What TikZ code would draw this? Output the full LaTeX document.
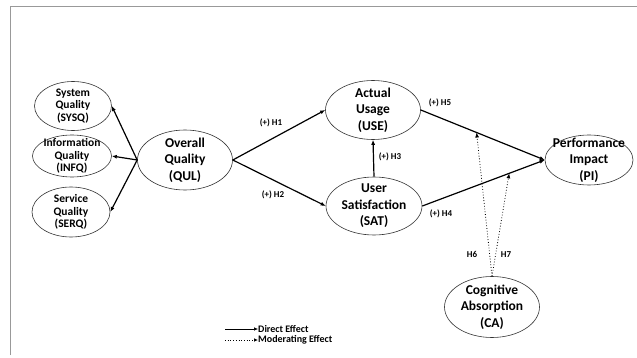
\documentclass[tikz,border=0pt]{standalone}
\usepackage{fontspec}
\setmainfont{Carlito}
\usetikzlibrary{shapes.geometric,arrows.meta,calc}
\begin{document}
\begin{tikzpicture}[x=1pt,y=-1pt,
  oval/.style={ellipse,draw=black!80,line width=0.6pt,inner sep=0pt},
  bigtxt/.style={align=center,font=\bfseries\fontsize{13.5}{16.5}\selectfont,inner sep=0pt},
  smalltxt/.style={align=center,font=\bfseries\fontsize{11.5}{12.5}\selectfont,inner sep=0pt},
  lbl/.style={font=\bfseries\fontsize{9}{10}\selectfont,inner sep=0pt},
  direct/.style={line width=1.2pt,-{Latex[length=5pt,width=4pt]}},
  moder/.style={line width=0.8pt,dotted,-{Latex[length=5pt,width=4pt]}},
  frame/.style={draw=black!40,line width=0.8pt}]
\useasboundingbox (0,0) rectangle (637,358);
\fill[white] (0,0) rectangle (637,358);
\draw[frame] (10,355) -- (10,6) -- (637,6);
% ellipses
\node[oval,minimum width=77,minimum height=49] (sysq) at (73,106) {};
\node[smalltxt] at (sysq) {System\\Quality\\(SYSQ)};
\node[oval,minimum width=79,minimum height=42] (infq) at (72,156) {};
\node[smalltxt] at (infq) {Information\\Quality\\(INFQ)};
\node[oval,minimum width=78,minimum height=50] (serq) at (71,212) {};
\node[smalltxt] at (serq) {Service\\Quality\\(SERQ)};
\node[oval,minimum width=95,minimum height=60] (qul) at (185,160) {};
\node[bigtxt] at (qul) {Overall\\Quality\\(QUL)};
\node[oval,minimum width=95,minimum height=59] (use) at (373,110) {};
\node[bigtxt] at (use) {Actual\\Usage\\(USE)};
\node[oval,minimum width=96,minimum height=58] (sat) at (374,206) {};
\node[bigtxt] at (sat) {User\\Satisfaction\\(SAT)};
\node[oval,minimum width=88,minimum height=50] (pi) at (589,160) {};
\node[bigtxt] at (pi) {Performance\\Impact\\(PI)};
\node[oval,minimum width=95,minimum height=61] (ca) at (492,307) {};
\node[bigtxt] at (ca) {Cognitive\\Absorption\\(CA)};
% connectors
\coordinate (q) at (qul.west);
\draw[direct] (q) -- (sysq.east);
\draw[direct] (q) -- (infq.east);
\draw[direct] (q) -- (serq.east);
\draw[direct] (qul.east) -- (use.west);
\draw[direct] (qul.east) -- (sat.west);
\draw[direct] (sat.north) -- (use.south);
\draw[direct] (use.east) -- (pi.west);
\draw[direct] (sat.east) -- (pi.west);
\coordinate (m1) at ($(use.east)!0.45!(pi.west)$);
\coordinate (m2) at ($(sat.east)!0.71!(pi.west)$);
\draw[moder] (ca.north) -- (m1);
\draw[moder] (ca.north) -- (m2);
% labels
\node[lbl] (h1) at (271,123) {(+) H1};
\node[lbl] (h2) at (273,195) {(+) H2};
\node[lbl] (h3) at (390,157) {(+) H3};
\node[lbl] (h5) at (440,103) {(+) H5};
\node[lbl] (h4) at (441,214) {(+) H4};
\node[lbl] (h6) at (472,254) {H6};
\node[lbl] (h7) at (506,255) {H7};
% legend
\coordinate (l1a) at (225,329);
\coordinate (l1b) at (258,329);
\coordinate (l2a) at (225,340);
\coordinate (l2b) at (258,340);
\draw[line width=0.6pt,-{Latex[length=4pt,width=3.5pt]}] (l1a) -- (l1b);
\draw[line width=0.7pt,dotted,-{Latex[length=4pt,width=3.5pt]}] (l2a) -- (l2b);
\node[lbl,anchor=west,font=\bfseries\fontsize{10}{11}\selectfont] (t1) at (l1b) {Direct Effect};
\node[lbl,anchor=west,font=\bfseries\fontsize{10}{11}\selectfont] (t2) at (l2b) {Moderating Effect};
\end{tikzpicture}
\end{document}
